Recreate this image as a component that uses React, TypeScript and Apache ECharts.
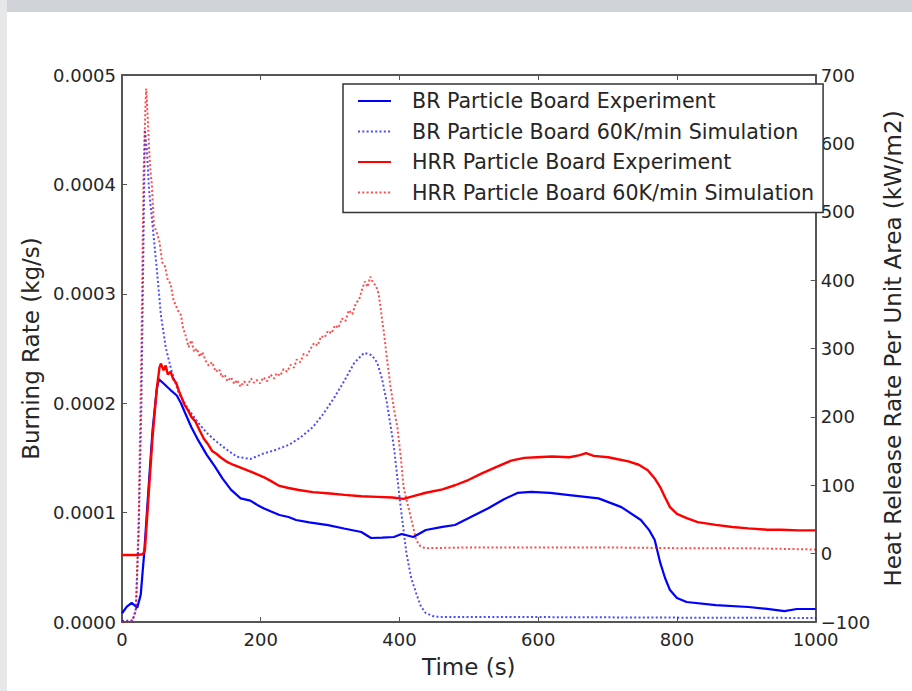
import React, { useEffect, useRef } from "react";
import * as echarts from "echarts";

// ---- Data (time in s) ----
const xTicks = [0, 200, 400, 600, 800, 1000];

// Burning rate, experiment (kg/s)
const brExperiment: [number, number][] = [
  [0, 0.000008], [7, 0.000014], [14, 0.0000175], [22, 0.000013], [27, 0.000025],
  [32, 0.000063], [38, 0.00012], [44, 0.000175], [50, 0.000212], [53, 0.000222],
  [60, 0.000218], [70, 0.000212], [79, 0.000207], [85, 0.0002], [91, 0.000191],
  [100, 0.000178], [110, 0.000166], [122, 0.000153], [134, 0.000142], [145, 0.000131],
  [157, 0.000121], [171, 0.000113], [185, 0.000111], [195, 0.000107], [204, 0.000104],
  [215, 0.000101], [227, 0.0000978], [240, 0.000096], [251, 0.0000932], [270, 0.000091],
  [297, 0.0000886], [320, 0.0000855], [345, 0.0000823], [359, 0.0000768], [375, 0.0000772],
  [392, 0.0000777], [403, 0.0000804], [420, 0.0000777], [438, 0.0000841], [462, 0.0000869],
  [480, 0.0000887], [500, 0.000095], [528, 0.000104], [550, 0.000112], [570, 0.000118],
  [590, 0.000119], [617, 0.000118], [645, 0.000116], [687, 0.000113], [720, 0.000105],
  [748, 0.0000932], [760, 0.000084], [768, 0.000075], [776, 0.000054], [783, 0.00004],
  [790, 0.0000292], [800, 0.000022], [814, 0.0000183], [856, 0.0000155], [903, 0.0000137],
  [930, 0.000012], [955, 0.00001], [973, 0.0000119], [1000, 0.0000119],
];

// Burning rate, 60K/min simulation (kg/s)
const brSimulation: [number, number][] = [
  [0, 0.000001], [15, 0.0000015], [20, 0.00001], [24, 0.00008], [28, 0.0002],
  [31, 0.00035], [33, 0.00045], [36, 0.00043], [39, 0.000395], [44, 0.000363],
  [51, 0.000317], [56, 0.000281], [63, 0.000251], [72, 0.000228], [82, 0.000209],
  [95, 0.000195], [110, 0.000182], [122, 0.000173], [134, 0.000166], [150, 0.000158],
  [166, 0.000151], [185, 0.000149], [204, 0.000154], [220, 0.000157], [241, 0.000162],
  [258, 0.000169], [275, 0.000178], [290, 0.00019], [307, 0.000206], [320, 0.00022],
  [335, 0.000237], [349, 0.000246], [360, 0.000244], [368, 0.000237], [375, 0.000222],
  [382, 0.0002], [392, 0.00016], [401, 0.000109], [410, 0.000063], [417, 0.00004],
  [424, 0.0000265], [431, 0.000014], [438, 0.0000082], [450, 0.000005], [462, 0.0000046],
  [600, 0.0000045], [800, 0.000004], [1000, 0.0000037],
];

// Heat release rate, experiment (kW/m2)
const hrrExperiment: [number, number][] = [
  [0, -2], [10, -2], [20, -2], [30, -1], [33, 5], [38, 80], [44, 170], [50, 240],
  [54, 272], [56, 278], [60, 268], [63, 275], [66, 262], [70, 266], [74, 255],
  [78, 250], [82, 238], [86, 228], [90, 218], [95, 210], [100, 200], [106, 193],
  [112, 180], [118, 168], [124, 160], [130, 150], [136, 146], [142, 141], [150, 135],
  [160, 130], [170, 126], [180, 122], [190, 118], [204, 112], [215, 106], [227, 99],
  [240, 96], [255, 93], [275, 90], [300, 88], [321, 86], [345, 84], [368, 83],
  [390, 82], [406, 80], [420, 84], [438, 89], [462, 94], [480, 100], [500, 108],
  [518, 117], [540, 127], [561, 136], [580, 140], [598, 141], [620, 142], [645, 141],
  [660, 144], [669, 147], [680, 143], [701, 141], [715, 138], [730, 135], [745, 130],
  [758, 122], [768, 110], [776, 97], [783, 82], [790, 68], [800, 58], [814, 52],
  [830, 46], [856, 42], [880, 39], [903, 37], [930, 35], [951, 35], [975, 34], [1000, 34],
];

// Heat release rate, 60K/min simulation (kW/m2)
const hrrSimulation: [number, number][] = [
  [0, -100], [15, -99], [20, -80], [24, 50], [28, 300], [31, 550], [34, 660], [35, 680],
  [37, 640], [39, 593], [41, 560], [43, 540], [46, 480], [50, 470], [54, 456], [58, 426],
  [62, 420], [66, 400], [70, 395], [74, 372], [77, 364], [81, 355], [85, 349], [88, 330],
  [92, 318], [96, 302], [100, 312], [104, 295], [108, 300], [112, 288], [116, 295],
  [120, 283], [125, 275], [130, 280], [135, 266], [140, 270], [144, 258], [148, 262],
  [152, 252], [157, 258], [162, 248], [166, 254], [171, 244], [176, 252], [181, 246],
  [186, 256], [190, 250], [194, 254], [199, 249], [204, 258], [209, 252], [214, 262],
  [219, 256], [223, 264], [228, 260], [233, 270], [238, 266], [243, 276], [248, 272],
  [252, 284], [257, 280], [262, 292], [267, 290], [272, 300], [277, 308], [282, 304],
  [287, 318], [292, 316], [297, 326], [302, 322], [307, 334], [312, 330], [317, 344],
  [322, 340], [327, 356], [332, 350], [337, 366], [342, 372], [346, 386], [350, 398],
  [354, 390], [358, 405], [362, 396], [366, 392], [370, 380], [374, 350], [378, 320],
  [382, 285], [387, 245], [392, 212], [397, 185], [402, 140], [406, 97], [411, 75],
  [415, 59], [420, 38], [424, 20], [430, 11], [437, 8], [500, 9], [600, 9], [700, 9],
  [800, 8], [900, 8], [1000, 6],
];

const seriesNames = [
  "BR Particle Board Experiment",
  "BR Particle Board 60K/min Simulation",
  "HRR Particle Board Experiment",
  "HRR Particle Board 60K/min Simulation",
];

const FONT = "DejaVu Sans";
const AXIS_COLOR = "#555";
const TEXT_COLOR = "#262626";

export default function App() {
  const ref = useRef<HTMLDivElement>(null);

  useEffect(() => {
    document.body.style.margin = "0";
    if (!ref.current) return;
    const chart = echarts.init(ref.current, null, { renderer: "svg" });

    const dotted = [2, 2.3];
    const axisLine = { show: true, onZero: false, lineStyle: { color: AXIS_COLOR, width: 2 } };
    const axisTick = { show: true, inside: true, length: 5, lineStyle: { color: AXIS_COLOR, width: 1 } };

    chart.setOption({
      animation: false,
      backgroundColor: "#ffffff",
      textStyle: { fontFamily: FONT },
      graphic: [
        { type: "rect", left: 0, top: 0, shape: { x: 0, y: 0, width: 912, height: 12 }, style: { fill: "#cfd3d8" }, silent: true, z: -10 },
        { type: "rect", left: 0, top: 0, shape: { x: 0, y: 0, width: 7, height: 691 }, style: { fill: "#e6e7e9" }, silent: true, z: -10 },
      ],
      grid: { left: 122, right: 80, top: 75, bottom: 69, containLabel: false },
      legend: {
        orient: "vertical",
        left: 343,
        top: 84,
        data: seriesNames,
        itemWidth: 33,
        itemHeight: 12,
        itemGap: 8.5,
        padding: [6, 9, 9, 14],
        borderColor: "#333",
        borderWidth: 1.5,
        borderRadius: 0,
        backgroundColor: "#ffffff",
        itemStyle: { opacity: 0 },
        textStyle: {
          fontFamily: FONT,
          fontSize: 20.6,
          lineHeight: 22,
          color: TEXT_COLOR,
          padding: [0, 0, 0, 16],
        },
      },
      xAxis: [
        {
          type: "value",
          min: xTicks[0],
          max: xTicks[xTicks.length - 1],
          interval: 200,
          position: "bottom",
          name: "Time (s)",
          nameLocation: "middle",
          nameGap: 33,
          nameTextStyle: { fontFamily: FONT, fontSize: 23, color: TEXT_COLOR },
          axisLine,
          axisTick,
          axisLabel: { margin: 8, fontFamily: FONT, fontSize: 18, color: TEXT_COLOR, formatter: (v: number) => String(v) },
          splitLine: { show: false },
        },
        {
          type: "value",
          min: xTicks[0],
          max: xTicks[xTicks.length - 1],
          interval: 200,
          position: "top",
          axisLine,
          axisTick,
          axisLabel: { show: false },
          splitLine: { show: false },
        },
      ],
      yAxis: [
        {
          type: "value",
          min: 0,
          max: 0.0005,
          interval: 0.0001,
          position: "left",
          name: "Burning Rate (kg/s)",
          nameLocation: "middle",
          nameRotate: 90,
          nameGap: 80,
          nameTextStyle: { fontFamily: FONT, fontSize: 23, color: TEXT_COLOR },
          axisLine,
          axisTick,
          axisLabel: {
            margin: 6,
            fontFamily: FONT,
            fontSize: 18,
            color: TEXT_COLOR,
            formatter: (v: number) => v.toFixed(4),
          },
          splitLine: { show: false },
        },
        {
          type: "value",
          min: -100,
          max: 700,
          interval: 100,
          position: "right",
          name: "Heat Release Rate Per Unit Area (kW/m2)",
          nameLocation: "middle",
          nameRotate: 90,
          nameGap: 52,
          nameTextStyle: { fontFamily: FONT, fontSize: 23, color: TEXT_COLOR },
          axisLine,
          axisTick,
          axisLabel: {
            margin: 5,
            fontFamily: FONT,
            fontSize: 18,
            color: TEXT_COLOR,
            formatter: (v: number) => (v < 0 ? "\u2212" + Math.abs(v) : String(v)),
          },
          splitLine: { show: false },
        },
      ],
      series: [
        {
          name: seriesNames[0],
          type: "line",
          xAxisIndex: 0,
          yAxisIndex: 0,
          data: brExperiment,
          showSymbol: false,
          symbol: "none",
          lineStyle: { color: "#0000ff", width: 2.2 },
          itemStyle: { color: "#0000ff" },
          z: 2,
        },
        {
          name: seriesNames[1],
          type: "line",
          xAxisIndex: 0,
          yAxisIndex: 0,
          data: brSimulation,
          showSymbol: false,
          symbol: "none",
          lineStyle: { color: "#0000ff", width: 2, type: dotted, opacity: 0.7 },
          itemStyle: { color: "#0000ff" },
          z: 3,
        },
        {
          name: seriesNames[2],
          type: "line",
          xAxisIndex: 0,
          yAxisIndex: 1,
          data: hrrExperiment,
          showSymbol: false,
          symbol: "none",
          lineStyle: { color: "#ff0000", width: 2.4 },
          itemStyle: { color: "#ff0000" },
          z: 4,
        },
        {
          name: seriesNames[3],
          type: "line",
          xAxisIndex: 0,
          yAxisIndex: 1,
          data: hrrSimulation,
          showSymbol: false,
          symbol: "none",
          lineStyle: { color: "#ff0000", width: 2, type: dotted, opacity: 0.7 },
          itemStyle: { color: "#ff0000" },
          z: 5,
        },
      ],
    });

    return () => chart.dispose();
  }, []);

  return <div ref={ref} style={{ width: 912, height: 691 }} />;
}
